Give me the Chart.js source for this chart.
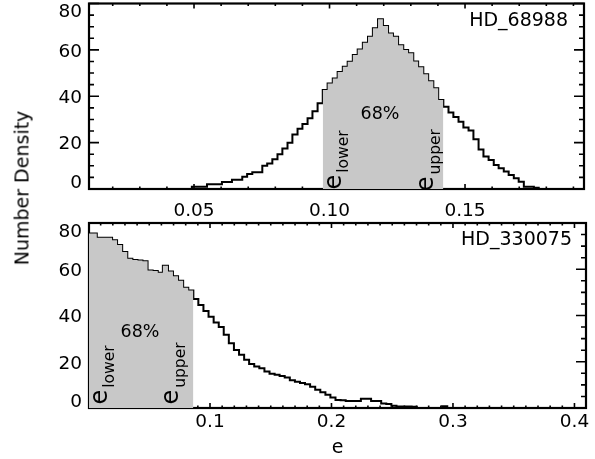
<!DOCTYPE html>
<html>
<head>
<meta charset="utf-8">
<script src="https://cdn.jsdelivr.net/npm/chart.js@4/dist/chart.umd.min.js"></script>
<style>
html,body{margin:0;padding:0;background:#fff;}
#wrap{position:relative;width:595px;height:459px;overflow:hidden;background:#fff;}
canvas{position:absolute;left:0;}
#ylab{position:absolute;left:22px;top:188px;font-family:'DejaVu Sans';font-size:19px;line-height:1;white-space:nowrap;color:#000;transform:translate(-50%,-50%) rotate(-90deg);}
</style>
</head>
<body>
<div id="wrap">
<canvas id="c1" width="595" height="230" style="top:0px"></canvas>
<canvas id="c2" width="595" height="259" style="top:200px"></canvas>
<div id="ylab">Number Density</div>
</div>
<script>
// ---------------- data ----------------
// Top panel: HD_68988 — histogram bin edges (e) and counts
const topEdges = [0.0492,0.0511,0.0529,0.0548,0.0566,0.0585,0.0603,0.0622,0.0640,0.0659,
  0.0678,0.0696,0.0715,0.0733,0.0752,0.0770,0.0789,0.0808,0.0826,0.0845,
  0.0863,0.0882,0.0900,0.0919,0.0937,0.0956,0.0975,0.0993,0.1012,0.1030,
  0.1049,0.1067,0.1086,0.1104,0.1123,0.1142,0.1160,0.1179,0.1197,0.1216,
  0.1234,0.1253,0.1272,0.1290,0.1309,0.1327,0.1346,0.1364,0.1383,0.1401,
  0.1420,0.1439,0.1457,0.1476,0.1494,0.1513,0.1531,0.1550,0.1568,0.1587,
  0.1606,0.1624,0.1643,0.1661,0.1680,0.1698,0.1717,0.1735,0.1754,0.1772];
const topCounts = [1,1,1,2,2,2,3,3,4,4,
  5.3,6.5,7.2,7.2,10,11,12.8,15,17.5,20,
  23.5,26,28,30.5,33.5,37,42.7,45.5,47.7,50.5,
  52.7,54.9,57.8,60.2,63.1,65.7,69.3,73.2,70.3,67.1,
  65.7,62,59.9,58.5,55,52.5,49.5,46.5,43.4,38.4,
  35.5,33,31,29,26.5,25.2,21.5,17,14,12.5,
  10.3,8.9,7.5,6,4.6,3.1,1,1,0.5];
const topLower = 0.0975, topUpper = 0.1420;
const topXRange = [0.01125, 0.1939];

// Bottom panel: HD_330075
const bottomEdges = [0.0004,0.0026,0.0068,0.0110,0.0152,0.0194,0.0235,0.0277,0.0319,0.0361,0.0403,
  0.0444,0.0486,0.0528,0.0570,0.0612,0.0654,0.0695,0.0737,0.0779,0.0821,
  0.0863,0.0904,0.0946,0.0988,0.1030,0.1072,0.1113,0.1155,0.1197,0.1239,
  0.1281,0.1322,0.1364,0.1406,0.1448,0.1490,0.1532,0.1573,0.1615,0.1657,
  0.1699,0.1741,0.1782,0.1824,0.1866,0.1908,0.1950,0.1991,0.2033,0.2075,
  0.2117,0.2159,0.2200,0.2242,0.2284,0.2326,0.2368,0.2409,0.2451,0.2493,
  0.2535,0.2577,0.2618,0.2660,0.2702,0.2744,0.2786,0.2827,0.2869,0.2911,0.2953];
const bottomCounts = [75.5,
  75.5,73.6,73.6,73.6,72.5,70.5,67.5,64.5,64,63.8,
  63.5,59.5,59.2,58.5,61.5,59,57,55,52,50.8,
  47.1,44.5,42,39.5,37,35,31.7,28,25.1,23,
  20.9,19,18,17.2,15.8,14.8,14.4,13.8,13.2,12,
  11.3,10.8,10.3,9.2,7.9,6.8,5.7,4.5,3.5,3.3,
  3,3,3,4,4,3,3,2,1.7,1,
  0.7,0.7,0.7,0.5,0,0,0,0,0,0.8];
const bottomLower = 0.0004, bottomUpper = 0.0863;
const bottomXRange = [0.0004, 0.4095];

// Ticks and labels
const topXTicks = [0.05, 0.10, 0.15];
const topXLabels = ['0.05', '0.10', '0.15'];
const bottomXTicks = [0.1, 0.2, 0.3, 0.4];
const bottomXLabels = ['0.1', '0.2', '0.3', '0.4'];
const yTicks = [0, 20, 40, 60, 80];
const yLabels = ['0', '20', '40', '60', '80'];
const starNames = ['HD_68988', 'HD_330075'];
const pctLabel = '68%';

// ---------------- helpers ----------------
const FONT = 'DejaVu Sans';
const SHADE = '#c8c8c8';
Chart.defaults.font.family = FONT;
Chart.defaults.color = '#000';

function histPoints(edges, counts, xmin, xmax) {
  const pts = [];
  if (edges[0] > xmin) pts.push({x: xmin, y: 0});
  counts.forEach((c, i) => pts.push({x: edges[i], y: c}));
  pts.push({x: edges[counts.length], y: 0});
  if (edges[counts.length] < xmax) pts.push({x: xmax, y: 0});
  return pts;
}
function shadePoints(edges, counts, lo, hi) {
  const pts = [];
  counts.forEach((c, i) => {
    if (edges[i] >= lo - 1e-9 && edges[i] < hi - 1e-9) pts.push({x: edges[i], y: c});
  });
  pts.push({x: hi, y: 0});
  return pts;
}

const idlFrame = {
  id: 'idlFrame',
  beforeDatasetsDraw(chart, args, o) {
    const {ctx, chartArea: a} = chart;
    const x = chart.scales.x, y = chart.scales.y;
    ctx.save();
    ctx.strokeStyle = '#000';
    ctx.lineWidth = 1.6;
    ctx.beginPath();
    const xs = Math.ceil(x.min / o.xMinor - 1e-6), xe = Math.floor(x.max / o.xMinor + 1e-6);
    for (let i = xs; i <= xe; i++) {
      const v = i * o.xMinor, r = v / o.xMajor;
      const L = Math.abs(r - Math.round(r)) < 1e-6 ? o.xMajorLen : o.xMinorLen;
      const px = x.getPixelForValue(v);
      ctx.moveTo(px, a.bottom); ctx.lineTo(px, a.bottom - L);
      ctx.moveTo(px, a.top); ctx.lineTo(px, a.top + L);
    }
    const ys = Math.ceil(y.min / o.yMinor - 1e-6), ye = Math.floor(y.max / o.yMinor + 1e-6);
    for (let i = ys; i <= ye; i++) {
      const v = i * o.yMinor, r = v / o.yMajor;
      const L = Math.abs(r - Math.round(r)) < 1e-6 ? o.yMajorLen : o.yMinorLen;
      const py = y.getPixelForValue(v);
      ctx.moveTo(a.left, py); ctx.lineTo(a.left + L, py);
      ctx.moveTo(a.right, py); ctx.lineTo(a.right - L, py);
    }
    ctx.stroke();
    ctx.lineWidth = 2.2;
    ctx.strokeRect(a.left, a.top, a.right - a.left, a.bottom - a.top);
    ctx.restore();
  }
};

const shiftEnd = {
  id: 'shiftEnd',
  beforeDraw(chart) {
    const s = chart.scales.y;
    if (!s || !s.getLabelItems) return;
    const items = s.getLabelItems();
    items.forEach(it => {
      if (it._shifted) return;
      if (it.label === '80') it.options.translation[1] += 7;
      if (it.label === '0') it.options.translation[1] -= 7.5;
      it._shifted = true;
    });
  }
};

function subLabel(ctx, x, y, main, sub) {
  ctx.save();
  ctx.translate(x, y);
  ctx.rotate(-Math.PI / 2);
  ctx.textAlign = 'left';
  ctx.textBaseline = 'alphabetic';
  ctx.font = '24px "' + FONT + '"';
  ctx.fillText(main, 0, 0);
  const w = ctx.measureText(main).width;
  ctx.font = '15.5px "' + FONT + '"';
  ctx.fillText(sub, w + 2, 7);
  ctx.restore();
}

const idlText = {
  id: 'idlText',
  afterDatasetsDraw(chart, args, o) {
    const ctx = chart.ctx;
    ctx.save();
    ctx.fillStyle = '#000';
    ctx.font = '19px "' + FONT + '"';
    ctx.textAlign = 'right';
    ctx.textBaseline = 'middle';
    ctx.fillText(o.name, o.nameX, o.nameY);
    ctx.font = '17.5px "' + FONT + '"';
    ctx.textAlign = 'center';
    ctx.fillText(pctLabel, o.pctX, o.pctY);
    ctx.restore();
    subLabel(ctx, o.loX, o.loY, 'e', 'lower');
    subLabel(ctx, o.upX, o.upY, 'e', 'upper');
  }
};

function buildChart(id, c) {
  return new Chart(document.getElementById(id), {
    type: 'line',
    data: {
      datasets: [
        { data: shadePoints(c.edges, c.counts, c.lower, c.upper), stepped: true, fill: 'origin',
          backgroundColor: SHADE, borderColor: 'rgba(0,0,0,0)', borderWidth: 0, pointRadius: 0 },
        { data: histPoints(c.edges, c.counts, c.xRange[0], c.xRange[1]), stepped: true, fill: false,
          borderColor: '#000', borderWidth: 2, pointRadius: 0 }
      ]
    },
    options: {
      responsive: false,
      animation: false,
      events: [],
      layout: { padding: c.pad },
      plugins: {
        legend: { display: false },
        tooltip: { enabled: false },
        idlFrame: { xMinor: 0.01, xMajor: c.xMajor, xMajorLen: 5, xMinorLen: 2.5,
                    yMinor: 5, yMajor: 20, yMajorLen: 10, yMinorLen: 5 },
        idlText: c.text
      },
      scales: {
        x: {
          type: 'linear', position: 'bottom', min: c.xRange[0], max: c.xRange[1],
          grid: { display: false, drawTicks: false }, border: { display: false },
          ticks: { autoSkip: false, maxRotation: 0, minRotation: 0, padding: c.xPad,
                   font: { size: 18.5 }, color: '#000',
                   callback: (v, i) => c.xLabels[i] },
          afterBuildTicks: s => { s.ticks = c.xTicks.map(v => ({ value: v })); },
          afterFit: s => { s.height = c.xH; s.paddingLeft = 0; s.paddingRight = 0; },
          title: c.xTitle ? { display: true, text: c.xTitle, font: { size: 19 }, color: '#000',
                              padding: { top: 0, bottom: 0 } } : { display: false }
        },
        y: {
          type: 'linear', min: 0, max: 80,
          grid: { display: false, drawTicks: false }, border: { display: false },
          ticks: { padding: 7, labelOffset: 2, font: { size: 18.5 }, color: '#000',
                   callback: (v, i) => yLabels[i] },
          afterBuildTicks: s => { s.ticks = yTicks.map(v => ({ value: v })); },
          afterFit: s => { s.width = 89; s.paddingTop = 0; s.paddingBottom = 0; }
        }
      }
    },
    plugins: [idlFrame, idlText, shiftEnd]
  });
}

buildChart('c1', {
  edges: topEdges, counts: topCounts, lower: topLower, upper: topUpper, xRange: topXRange,
  xTicks: topXTicks, xLabels: topXLabels, xMajor: 0.05, xPad: 11.4, xH: 41, xTitle: null,
  pad: { left: 0, right: 11, top: 3.5, bottom: 0 },
  text: { name: starNames[0], nameX: 568, nameY: 21, pctX: 380, pctY: 114.5,
          loX: 341, loY: 189.6, upX: 433, upY: 191.3 }
});

buildChart('c2', {
  edges: bottomEdges, counts: bottomCounts, lower: bottomLower, upper: bottomUpper, xRange: bottomXRange,
  xTicks: bottomXTicks, xLabels: bottomXLabels, xMajor: 0.1, xPad: 3.4, xH: 51, xTitle: 'e',
  pad: { left: 0, right: 9, top: 23, bottom: 0 },
  text: { name: starNames[1], nameX: 572, nameY: 40, pctX: 140, pctY: 132.5,
          loX: 106.7, loY: 204.6, upX: 178, upY: 204.6 }
});
</script>
</body>
</html>
